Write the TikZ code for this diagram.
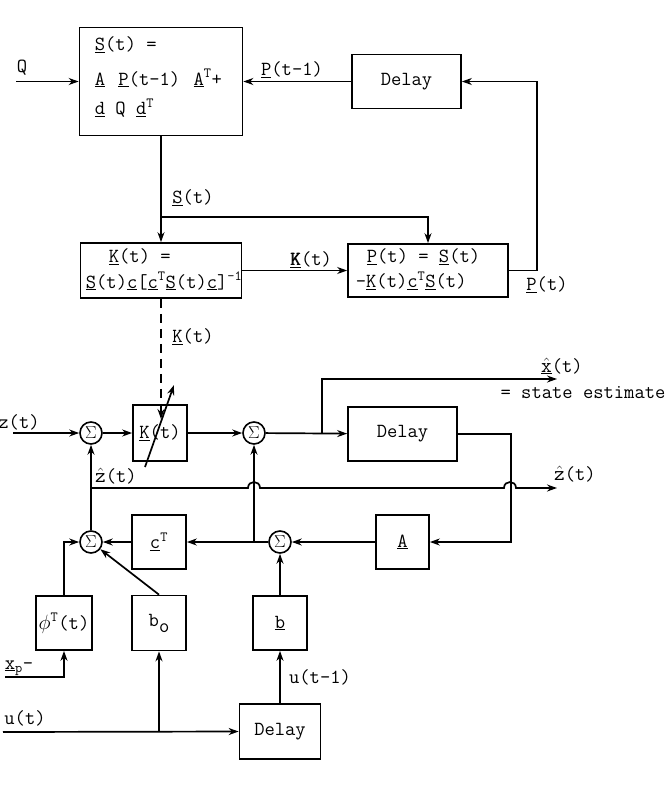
\documentclass[tikz,border=0pt]{standalone}
\usetikzlibrary{arrows.meta}
\newcommand{\uln}[1]{\underline{#1}}
\newcommand{\fbk}[1]{\rlap{#1}\hspace{0.7pt}#1}
\begin{document}
\begin{tikzpicture}[x=1pt,y=-1pt, line width=1.7pt,
  every node/.style={font=\ttfamily\fontsize{20}{24}\selectfont, inner sep=0pt},
  box/.style n args={2}{draw, line width=1.7pt, minimum width=#1, minimum height=#2},
  sumc/.style={draw, circle, minimum size=22pt, line width=1.6pt, font=\fontsize{16}{16}\selectfont},
  arr/.style={-{Stealth[length=10pt,width=7pt]}}]
\useasboundingbox (0,0) rectangle (668,811);
% boxes
\node[box={163pt}{108pt}] (S) at (161,81.5) {};
\node[anchor=west] (s1) at (94,45) {\uln{S}(t) =};
\node[anchor=west] (s2) at (94,78) {\uln{A}\hspace{3pt} \uln{P}(t-1)\hspace{3pt} \uln{A}\textsuperscript{T}+};
\node[anchor=west] (s3) at (94,108) {\uln{d} Q \uln{d}\textsuperscript{T}};
\node[box={109pt}{54pt}] (D1) at (406.5,81.5) {Delay};
\node[box={161pt}{55pt}] (K) at (161,270.5) {};
\node[anchor=west] (k1) at (108,257) {\uln{K}(t) =};
\node[anchor=west] (k2) at (85,281) {\uln{S}(t)\uln{c}[\uln{c}\textsuperscript{T}\uln{S}(t)\uln{c}]\textsuperscript{-1}};
\node[box={160pt}{53pt}] (P) at (428,270.5) {};
\node[anchor=west] (p1) at (366,257) {\uln{P}(t) = \uln{S}(t)};
\node[anchor=west] (p2) at (355,281) {-\uln{K}(t)\uln{c}\textsuperscript{T}\uln{S}(t)};
\node[box={54pt}{56pt}] (G) at (160,433) {\uln{K}(t)};
\node[sumc] (sA) at (91,433) {$\Sigma$};
\node[sumc] (sB) at (254,433) {$\Sigma$};
\node[sumc] (sC) at (91,542) {$\Sigma$};
\node[sumc] (sD) at (280,542) {$\Sigma$};
\node[box={109pt}{54pt}] (D2) at (402.5,434) {Delay};
\node[box={54pt}{54pt}] (C) at (159,542) {\uln{c}\textsuperscript{T}};
\node[box={53pt}{54pt}] (A) at (402.5,542) {\uln{A}};
\node[box={56pt}{54pt}] (F) at (64,623) {$\phi$\textsuperscript{T}(t)};
\node[box={54pt}{55pt}] (B0) at (159,623) {b\raisebox{-6pt}{o}};
\node[box={54pt}{54pt}] (B) at (280,623) {\uln{b}};
\node[box={81pt}{55pt}] (D3) at (280,731.5) {Delay};
% labels
\node (lQ) at (22,68) {Q};
\node (lP1) at (292,70) {\uln{P}(t-1)};
\node (lS) at (193,198) {\uln{S}(t)};
\node (lK) at (311,260) {\fbk{\uln{K}}(t)};
\node (lP) at (547,285) {\uln{P}(t)};
\node (lK2) at (193,337) {\uln{K}(t)};
\node (lX) at (562,366) {$\underline{\hat{\mathtt{x}}}$(t)};
\node (lSE) at (583,393) {= state estimate};
\node (lz) at (19,422) {z(t)};
\node (lzh) at (116,476) {$\hat{\mathtt{z}}$(t)};
\node (lzh2) at (575,474) {$\hat{\mathtt{z}}$(t)};
\node[anchor=west] (lxp) at (4,668) {\uln{x}\textsubscript{p}-};
\node (lu) at (25,718) {u(t)};
\node (lu1) at (320,677) {u(t-1)};
% connectors
\coordinate (q0) at (16,81.5);
\draw[arr] (q0) -- (S.west);
\draw[arr] (D1.west) -- (S.east);
\draw[arr] (S.south) -- (K.north);
\coordinate (sj) at (161,217);
\draw[arr] (sj) -| (P.north);
\draw[arr] (K.east) -- (P.west);
\draw[arr] (P.east) -- ++(28,0) |- (D1.east);
\coordinate (gk) at (161,419);
\draw[arr, dash pattern=on 9pt off 6pt] (K.south) -- (gk);
\coordinate (g1) at (145,467);
\coordinate (g2) at (174,385);
\draw[arr] (g1) -- (g2);
\coordinate (z0) at (13,433);
\draw[arr] (z0) -- (sA);
\draw[arr] (sA) -- (G);
\draw[arr] (G) -- (sB);
\draw[arr] (sB) -- (D2);
\coordinate (xj) at (322,433);
\coordinate (xe) at (557,379);
\draw[arr] (xj) |- (xe);
\draw[arr] (D2.east) -- ++(53,0) |- (A.east);
\draw[arr] (A) -- (sD);
\draw[arr] (sD) -- (C);
\coordinate (cj) at (254,542);
\draw[arr] (cj) -- (sB.south);
\draw[arr] (C) -- (sC);
\draw[arr] (sC) -- (sA);
\coordinate (fj) at (64,542);
\draw[arr] (F.north) -- (fj) -- (sC.west);
\draw[arr] (B0.north) -- (sC);
\draw[arr] (B.north) -- (sD);
\coordinate (xp) at (5,677);
\draw[arr] (xp) -| (F.south);
\coordinate (u0) at (3,732);
\draw[arr] (u0) -- (D3.west);
\coordinate (uj) at (159,732);
\draw[arr] (uj) -- (B0.south);
\draw[arr] (D3.north) -- (B.south);
\coordinate (zj) at (91,488);
\coordinate (ze) at (557,488);
\draw[arr] (zj) -- (248,488) .. controls (248,480) and (260,480) .. (260,488) -- (504,488) .. controls (504,480) and (516,480) .. (516,488) -- (ze);
\end{tikzpicture}
\end{document}
